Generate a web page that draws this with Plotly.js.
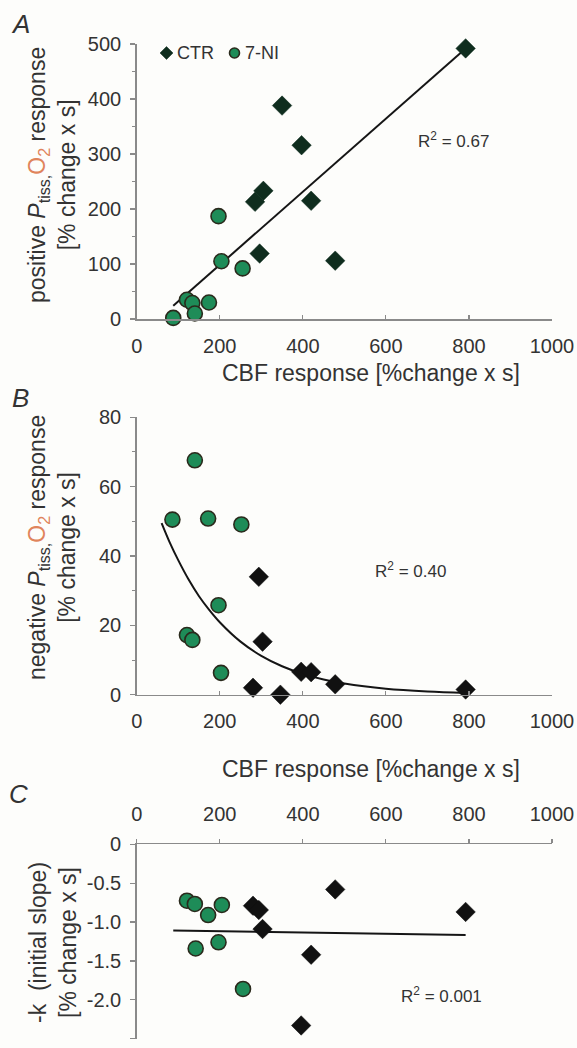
<!DOCTYPE html>
<html>
<head>
<meta charset="utf-8">
<script src="https://cdn.plot.ly/plotly-3.0.1.min.js"></script>
<style>
  html, body { margin: 0; padding: 0; background: #fdfdfb; }
  #chart { width: 577px; height: 1048px; }
</style>
</head>
<body>
<div id="chart"></div>
<script>
// ---------- data ----------
const xTicks = [0, 200, 400, 600, 800, 1000];

// Panel A : positive PtissO2 response vs CBF response
const ctrA_x = [792, 350, 397, 305, 285, 420, 296, 478];
const ctrA_y = [492, 388, 316, 233, 213, 215, 119, 106];
const niA_x  = [121, 134, 88, 140, 174, 197, 204, 255];
const niA_y  = [35, 29, 2, 10, 30, 187, 105, 92];
const fitA_x = [88, 792];
const fitA_y = [24, 492];
const yTicksA = [0, 100, 200, 300, 400, 500];

// Panel B : negative PtissO2 response vs CBF response
const ctrB_x = [294, 303, 396, 420, 478, 792, 280, 346];
const ctrB_y = [34, 15.3, 6.6, 6.5, 3, 1.5, 2, 0];
const niB_x  = [86, 140, 172, 252, 197, 121, 134, 203];
const niB_y  = [50.5, 67.6, 50.8, 49.1, 25.8, 17.2, 15.8, 6.3];
const fitB_x = [60, 80, 100, 125, 150, 175, 200, 250, 300, 350, 400, 450, 500, 600, 700, 792];
const fitB_y = [49.5, 43.8, 38.8, 33.2, 28.4, 24.4, 20.9, 15.3, 11.2, 8.2, 6.0, 4.4, 3.2, 1.7, 0.9, 0.5];
const yTicksB = [0, 20, 40, 60, 80];

// Panel C : -k (initial slope) vs CBF response
const ctrC_x = [478, 792, 280, 294, 303, 420, 396];
const ctrC_y = [-0.58, -0.87, -0.79, -0.845, -1.09, -1.42, -2.33];
const niC_x  = [121, 140, 205, 172, 197, 142, 256];
const niC_y  = [-0.725, -0.767, -0.78, -0.91, -1.26, -1.34, -1.86];
const fitC_x = [88, 792];
const fitC_y = [-1.11, -1.165];
const yTicksC = [0, -0.5, -1.0, -1.5, -2.0, -2.5];
const yTickTextC = ['0', '-0.5', '-1.0', '-1.5', '-2.0', '-2.5'];

// ---------- styling ----------
const FONT = 'Liberation Sans, Arial, Helvetica, sans-serif';
const AXC = '#8a8a8a';
const TXT = '#333333';
const GREEN = '#1e8c58';
const OUTL = '#2a2a1c';
const DKGREEN = '#0f2d1e';

function ctrTrace(x, y, xa, ya, col) {
  return { x: x, y: y, xaxis: xa, yaxis: ya, type: 'scatter', mode: 'markers',
    cliponaxis: false, showlegend: false, hoverinfo: 'skip',
    marker: { symbol: 'diamond', size: 15, color: col, line: { width: 0.5, color: col } } };
}
function niTrace(x, y, xa, ya) {
  return { x: x, y: y, xaxis: xa, yaxis: ya, type: 'scatter', mode: 'markers',
    cliponaxis: false, showlegend: false, hoverinfo: 'skip',
    marker: { symbol: 'circle', size: 15, color: GREEN, line: { width: 1.6, color: OUTL } } };
}
function fitTrace(x, y, xa, ya, shape) {
  return { x: x, y: y, xaxis: xa, yaxis: ya, type: 'scatter', mode: 'lines',
    cliponaxis: false, showlegend: false, hoverinfo: 'skip',
    line: { color: '#151515', width: 2, shape: shape || 'linear' } };
}

const data = [
  fitTrace(fitA_x, fitA_y, 'x', 'y'),
  ctrTrace(ctrA_x, ctrA_y, 'x', 'y', DKGREEN),
  niTrace(niA_x, niA_y, 'x', 'y'),
  fitTrace(fitB_x, fitB_y, 'x2', 'y2', 'spline'),
  ctrTrace(ctrB_x, ctrB_y, 'x2', 'y2', '#111111'),
  niTrace(niB_x, niB_y, 'x2', 'y2'),
  fitTrace(fitC_x, fitC_y, 'x3', 'y3'),
  ctrTrace(ctrC_x, ctrC_y, 'x3', 'y3', '#111111'),
  niTrace(niC_x, niC_y, 'x3', 'y3')
];

const W = 577, H = 1048;
const xDom = [136.7 / W, 552 / W];
function yd(topPx, botPx) { return [1 - botPx / H, 1 - topPx / H]; }

function xAxis(anchor, side, ticks, standoff) {
  return { domain: xDom, anchor: anchor, side: side, range: [0, 1000],
    tickmode: 'array', tickvals: xTicks,
    showline: true, linecolor: AXC, linewidth: 1.5, mirror: false,
    ticks: ticks, ticklen: 4, tickwidth: 1.2, tickcolor: AXC,
    showgrid: false, zeroline: false, fixedrange: true,
    ticklabelstandoff: standoff,
    tickfont: { family: FONT, size: 20, color: TXT } };
}
function yAxis(anchor, dom, range, vals, text, minorDtick) {
  const a = { domain: dom, anchor: anchor, range: range,
    tickmode: 'array', tickvals: vals,
    showline: true, linecolor: AXC, linewidth: 1.5,
    ticks: 'outside', ticklen: 5, tickwidth: 1.2, tickcolor: AXC,
    showgrid: false, zeroline: false, fixedrange: true,
    ticklabelstandoff: 5,
    tickfont: { family: FONT, size: 20, color: TXT } };
  if (text) a.ticktext = text;
  if (minorDtick) a.minor = { dtick: minorDtick, ticks: 'outside', ticklen: 3, tickcolor: AXC, tickwidth: 1, showgrid: false };
  return a;
}

const O2 = "<span style='color:#e0845c'>O<sub>2</sub></span>";
function ann(text, x, y, size, opts) {
  return Object.assign({ text: text, x: x / W, y: 1 - y / H, xref: 'paper', yref: 'paper',
    showarrow: false, xanchor: 'center', yanchor: 'middle',
    font: { family: FONT, size: size, color: TXT } }, opts || {});
}

const annotations = [
  ann('<i>A</i>', 20, 24, 26),
  ann('<i>B</i>', 20, 398, 26),
  ann('<i>C</i>', 18, 794, 26),
  // legend labels
  ann('CTR', 175, 53, 18, { xanchor: 'left' }),
  ann('7-NI', 243, 53, 18, { xanchor: 'left' }),
  // R^2
  ann('R<sup>2</sup> = 0.67', 453, 140, 17),
  ann('R<sup>2</sup> = 0.40', 410, 570, 17),
  ann('R<sup>2</sup> = 0.001', 441, 995, 17),
  // axis titles
  ann('CBF response [%change x s]', 371, 373, 23),
  ann('CBF response [%change x s]', 371, 769, 23),
  ann('positive <i>P</i><sub>tiss,</sub>' + O2 + ' response<br>[% change x s]', 52, 175, 23, { textangle: -90 }),
  ann('negative <i>P</i><sub>tiss,</sub>' + O2 + ' response<br>[% change x s]', 52, 548, 23, { textangle: -90 }),
  ann('-k  (initial slope)<br>[% change x s]', 53, 943, 23, { textangle: -90 })
];

// legend glyphs (paper coordinates)
function px(x) { return x / W; }
function py(y) { return 1 - y / H; }
const shapes = [
  { type: 'path', xref: 'paper', yref: 'paper',
    path: 'M ' + px(160) + ' ' + py(53) + ' L ' + px(166.5) + ' ' + py(46.5) + ' L ' + px(173) + ' ' + py(53) +
          ' L ' + px(166.5) + ' ' + py(59.5) + ' Z',
    fillcolor: DKGREEN, line: { color: DKGREEN, width: 0.5 } },
  { type: 'circle', xref: 'paper', yref: 'paper',
    x0: px(229.5), x1: px(239.5), y0: py(58), y1: py(48),
    fillcolor: GREEN, line: { color: OUTL, width: 1.6 } }
];

const layout = {
  width: W, height: H,
  margin: { l: 0, r: 0, t: 0, b: 0 },
  paper_bgcolor: '#fdfdfb', plot_bgcolor: 'rgba(0,0,0,0)',
  showlegend: false,
  xaxis: xAxis('y', 'bottom', 'inside', 8),
  yaxis: yAxis('x', yd(44, 319), [0, 500], yTicksA, null, 50),
  xaxis2: xAxis('y2', 'bottom', 'inside', 8),
  yaxis2: yAxis('x2', yd(417.3, 694.7), [0, 80], yTicksB, null, 10),
  xaxis3: xAxis('y3', 'top', 'outside', 10),
  yaxis3: yAxis('x3', yd(844.3, 1038.7), [-2.5, 0], yTicksC, yTickTextC, null),
  annotations: annotations,
  shapes: shapes
};

Plotly.newPlot('chart', data, layout, { displayModeBar: false, staticPlot: true });
</script>
</body>
</html>
